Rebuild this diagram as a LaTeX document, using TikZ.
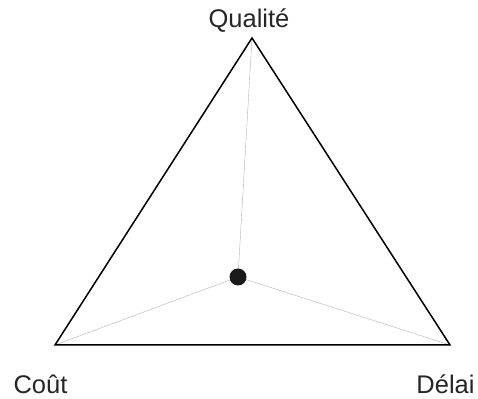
\documentclass[tikz,border=0pt]{standalone}
\usepackage{fontspec}
\setmainfont{Liberation Sans}
\begin{document}
\begin{tikzpicture}[x=1pt,y=1pt,
  lbl/.style={inner sep=0pt,anchor=base,font=\fontsize{25.5}{30}\selectfont,text=black!85},
  edge/.style={line width=1.5pt,line join=miter},
  spoke/.style={line width=0.4pt,draw=black!30}]
\useasboundingbox (0,0) rectangle (478,398);
\coordinate (Q) at (252,360);
\coordinate (C) at (55,53);
\coordinate (D) at (450,53);
\coordinate (P) at (238,121);
\draw[spoke] (P) -- (Q);
\draw[spoke] (P) -- (C);
\draw[spoke] (P) -- (D);
\draw[edge] (Q) -- (C) -- (D) -- cycle;
\fill[black!90] (P) circle (8.5);
\node[lbl] (lq) at (249,370) {Qualité};
\node[lbl] (lc) at (40.5,5) {Coût};
\node[lbl] (ld) at (445.5,5) {Délai};
\end{tikzpicture}
\end{document}
